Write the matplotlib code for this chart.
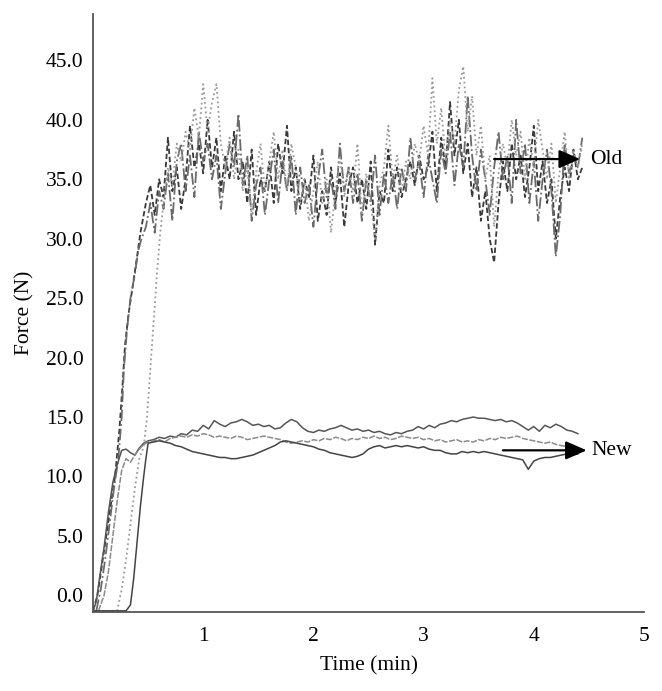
import numpy as np
import matplotlib.pyplot as plt

plt.rcParams['font.family'] = ['Liberation Serif', 'DejaVu Serif']

# old product: rise part (time, force) then noisy plateau sampled every 0.04 min
old1_rise_t = [0.0, 0.04, 0.08, 0.12, 0.16, 0.2, 0.24, 0.27, 0.29, 0.32, 0.36, 0.40, 0.43, 0.46]
old1_rise_f = [-1.3, 0.0, 2.5, 5.0, 7.5, 10.0, 14.0, 18.0, 21.0, 23.5, 26.0, 28.5, 30.5, 32.0]
old1_plateau = [33, 34.5, 32, 35, 33.5, 38.5, 34, 36, 32.5, 35,
                39.5, 36, 38, 35.5, 40, 36, 38.5, 34, 37, 35,
                39, 35, 36.5, 33, 37.5, 32, 35, 34, 36.5, 33,
                38, 35.5, 39.5, 34, 36, 32.5, 35, 33.5, 37, 31.5,
                34, 32, 36, 33, 35.5, 31, 34.5, 36, 33, 35,
                32.5, 36.5, 29.5, 34, 33, 37.5, 34, 36, 33.5, 35,
                36.5, 34.5, 37, 35, 36, 39, 34, 38.5, 36, 41.5,
                37, 40, 35.5, 38, 33.5, 36, 31.5, 34, 30, 28,
                33, 36.5, 34, 38, 35, 37, 33.5, 36, 39.5, 34,
                36.5, 33, 35, 30, 33.5, 36, 34, 37.5, 35, 36]

old2_rise_t = [0.03, 0.07, 0.11, 0.15, 0.19, 0.23, 0.26, 0.28, 0.31, 0.34, 0.38, 0.41, 0.44]
old2_rise_f = [-1.3, 0.5, 3.0, 6.0, 9.0, 11.5, 15.0, 19.0, 22.5, 25.0, 27.0, 29.0, 30.0]
old2_plateau = [31, 33, 30.5, 34, 32.5, 35.5, 31.5, 36.5, 38, 34,
                37, 33.5, 39, 36.5, 38, 35, 37, 32.5, 35.5, 38,
                36, 40.5, 34.5, 37, 31.5, 34.5, 36, 32, 35, 37.5,
                33, 36.5, 34, 37, 32, 36, 33, 34.5, 31, 35,
                37.5, 33.5, 35, 32.5, 38, 34, 36, 33, 35.5, 31.5,
                35, 33, 37, 32, 35.5, 33, 35.5, 32.5, 36, 34,
                38.5, 35, 36.5, 33.5, 37, 35, 33, 37.5, 35.5, 39,
                34.5, 38, 36, 42, 37, 34, 37.5, 35, 32, 36,
                39, 35, 37, 33, 40, 35.5, 38, 33, 36.5, 31.5,
                35, 37.5, 34, 28.5, 32, 38, 35.5, 37, 36, 38.5]

old3_rise_t = [0.0, 0.22, 0.26, 0.30, 0.34, 0.38, 0.42, 0.46, 0.49, 0.52, 0.55, 0.58, 0.61]
old3_rise_f = [-1.3, -1.3, 0.5, 3.0, 6.0, 9.0, 11.5, 12.5, 15.0, 19.0, 23.0, 27.0, 30.5]
old3_plateau = [33, 36, 34.5, 38, 36.5, 39, 37.5, 41,
                38.5, 43, 39, 41.5, 43, 38, 36, 38.5,
                35, 37.5, 34, 36, 32, 35.5, 38, 34,
                36.5, 39, 35, 37.5, 34, 38, 36, 33,
                35, 31.5, 34, 36.5, 33, 35, 30.5, 34,
                37, 33.5, 36, 34, 38, 32, 35.5, 33,
                30, 34.5, 36, 39.5, 35, 37, 34, 36.5,
                35, 38, 36.5, 39.5, 37, 43.5, 38, 41,
                36.5, 40, 38, 42.5, 44.5, 39, 42, 37,
                39.5, 35, 37, 31, 35.5, 38, 36, 40,
                37, 39, 35, 38.5, 36, 40, 37.5, 35,
                38, 33, 36, 39, 35, 37.5, 36, 38]

# new product: rise part then plateau sampled every 0.05 min from 0.5 to 4.4
new1_rise_t = [0.0, 0.03, 0.06, 0.10, 0.14, 0.18, 0.22, 0.26, 0.30, 0.34, 0.38, 0.42, 0.46]
new1_rise_f = [-1.3, -0.5, 1.5, 4.0, 7.0, 9.5, 11.0, 12.2, 12.3, 12.0, 11.8, 12.4, 12.8]
new1_plateau = [13.0, 13.1, 13.3, 13.2, 13.4, 13.3, 13.6, 13.5, 13.9, 13.8,
                14.3, 14.0, 14.7, 14.4, 14.2, 14.5, 14.6, 14.8, 14.6, 14.3,
                14.4, 14.2, 14.3, 14.0, 14.1, 14.5, 14.8, 14.6, 14.1, 13.8,
                13.7, 13.9, 13.8, 14.0, 14.1, 14.3, 14.1, 13.9, 14.0, 13.8,
                13.9, 13.7, 13.8, 13.6, 13.5, 13.7, 13.6, 13.8, 13.9, 14.2,
                14.0, 14.3, 14.1, 14.4, 14.5, 14.7, 14.6, 14.8, 14.9, 15.0,
                14.9, 14.9, 14.8, 14.7, 14.8, 14.6, 14.7, 14.5, 14.2, 13.9,
                14.2, 13.8, 14.3, 14.1, 14.4, 14.2, 13.9, 13.8, 13.6]

new2_rise_t = [0.05, 0.10, 0.14, 0.18, 0.22, 0.26, 0.30, 0.34, 0.38, 0.42, 0.46]
new2_rise_f = [-1.3, 0.0, 2.0, 5.0, 8.0, 10.5, 11.5, 11.2, 11.8, 12.3, 12.7]
new2_plateau = [12.9, 13.0, 13.1, 12.9, 13.2, 13.3, 13.4, 13.3, 13.5, 13.4,
                13.6, 13.5, 13.3, 13.4, 13.3, 13.2, 13.4, 13.3, 13.1, 13.2,
                13.3, 13.4, 13.3, 13.2, 13.1, 12.9, 12.8, 12.9, 13.0, 12.9,
                13.1, 13.0, 13.2, 13.1, 13.3, 13.2, 13.0, 13.2, 13.1, 13.3,
                13.2, 13.4, 13.2, 13.3, 13.1, 13.2, 13.4, 13.3, 13.2, 13.3,
                13.1, 13.2, 13.0, 13.1, 12.9, 13.0, 13.1, 12.9, 13.0, 12.9,
                13.1, 13.0, 13.2, 13.1, 13.3, 13.2, 13.3, 13.4, 13.2, 13.1,
                13.0, 12.9, 12.8, 12.9, 12.7, 12.6, 12.5, 12.4, 12.4]

new3_rise_t = [0.0, 0.30, 0.34, 0.37, 0.40, 0.43, 0.46, 0.48]
new3_rise_f = [-1.3, -1.3, -0.8, 1.5, 4.5, 7.5, 10.0, 11.5]
new3_plateau = [12.8, 12.9, 13.0, 12.9, 12.8, 12.6, 12.5, 12.3, 12.1, 12.0,
                11.9, 11.8, 11.7, 11.6, 11.6, 11.5, 11.5, 11.6, 11.7, 11.8,
                12.0, 12.2, 12.4, 12.6, 12.9, 13.0, 12.9, 12.8, 12.7, 12.6,
                12.5, 12.3, 12.2, 12.0, 11.9, 11.8, 11.7, 11.6, 11.7, 11.9,
                12.3, 12.5, 12.6, 12.4, 12.5, 12.6, 12.5, 12.6, 12.5, 12.4,
                12.5, 12.3, 12.2, 12.2, 12.0, 11.9, 11.9, 12.1, 12.0, 12.1,
                12.0, 12.1, 12.0, 11.9, 11.8, 11.7, 11.6, 11.5, 11.4, 10.6,
                11.3, 11.5, 11.6, 11.6, 11.7, 11.8, 11.9, 11.8, 11.9]

y_ticks = [0, 5, 10, 15, 20, 25, 30, 35, 40, 45]
x_ticks = [1, 2, 3, 4, 5]


def trace(rise_t, rise_f, plateau, t0, t1):
    t = np.concatenate([rise_t, np.linspace(t0, t1, len(plateau))])
    f = np.concatenate([rise_f, plateau])
    return t, f


fig = plt.figure(figsize=(6.62, 6.91), dpi=100)
ax = fig.add_axes([0.1405, 0.1143, 0.8323, 0.8654])

t, f = trace(old1_rise_t, old1_rise_f, old1_plateau, 0.48, 4.44)
ax.plot(t, f, color='#3a3a3a', lw=1.3, dashes=(3, 1.5))
t, f = trace(old2_rise_t, old2_rise_f, old2_plateau, 0.48, 4.44)
ax.plot(t, f, color='#6a6a6a', lw=1.3, linestyle='-.')
t, f = trace(old3_rise_t, old3_rise_f, old3_plateau, 0.64, 4.44)
ax.plot(t, f, color='#9a9a9a', lw=1.3, linestyle=':')

t, f = trace(new1_rise_t, new1_rise_f, new1_plateau, 0.5, 4.4)
ax.plot(t, f, color='#555555', lw=1.1)
t, f = trace(new2_rise_t, new2_rise_f, new2_plateau, 0.5, 4.4)
ax.plot(t, f, color='#8a8a8a', lw=1.1, dashes=(4, 1))
t, f = trace(new3_rise_t, new3_rise_f, new3_plateau, 0.5, 4.4)
ax.plot(t, f, color='#444444', lw=1.1)

# arrows with labels
arrow = dict(arrowstyle='-|>,head_length=0.8,head_width=0.35', color='black',
             lw=1.6, mutation_scale=16, shrinkA=0, shrinkB=0)
ax.annotate('', xy=(4.42, 36.7), xytext=(3.64, 36.7), arrowprops=arrow)
ax.text(4.51, 36.7, 'Old', fontsize=15.5, va='center', ha='left')
ax.annotate('', xy=(4.48, 12.2), xytext=(3.72, 12.2), arrowprops=arrow)
ax.text(4.52, 12.2, 'New', fontsize=15.5, va='center', ha='left')

ax.set_xlim(0.0, 5.0)
ax.set_ylim(-1.4, 48.9)
ax.set_yticks(y_ticks)
ax.set_yticklabels(['%.1f' % v for v in y_ticks])
ax.set_xticks(x_ticks)
ax.set_xticklabels([str(v) for v in x_ticks])
ax.tick_params(axis='both', length=0, labelsize=15.5)
ax.tick_params(axis='y', pad=7)
ax.tick_params(axis='x', pad=11)
ax.set_xticks([5], minor=True)
ax.tick_params(axis='x', which='minor', length=5, direction='in', color='#555555')

ax.set_xlabel('Time (min)', fontsize=15.5, labelpad=7)
ax.set_ylabel('Force (N)', fontsize=15.5, labelpad=8)

for s in ['top', 'right']:
    ax.spines[s].set_visible(False)
for s in ['left', 'bottom']:
    ax.spines[s].set_color('#555555')
    ax.spines[s].set_linewidth(1.3)

fig.savefig('out.png', dpi=100)
